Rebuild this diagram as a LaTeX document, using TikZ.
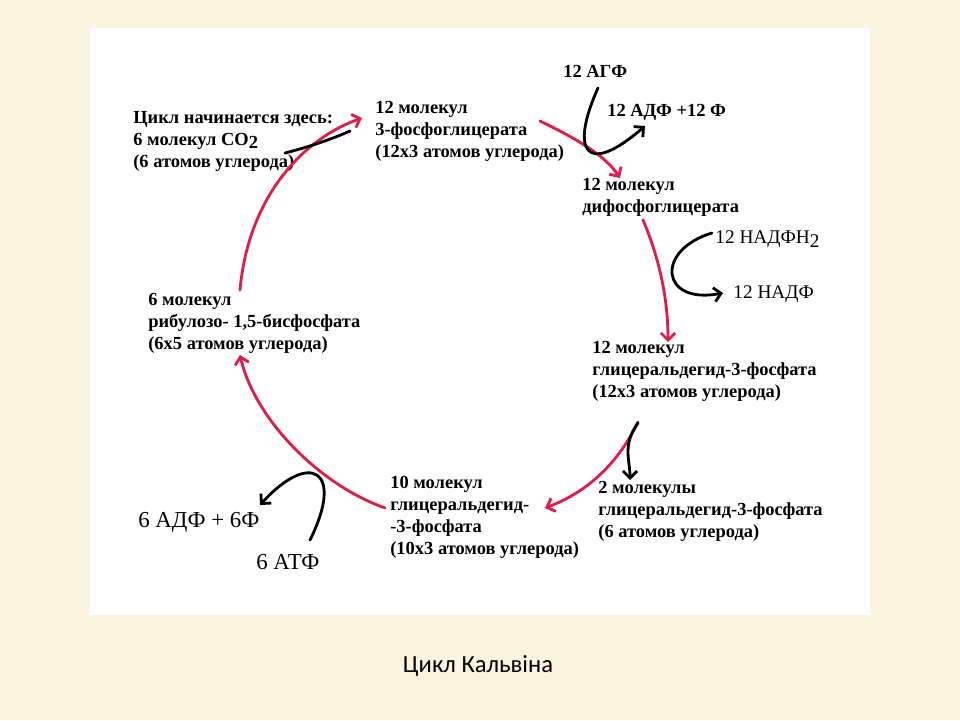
\documentclass[tikz,border=0pt]{standalone}
\usepackage{fontspec}
\setmainfont{Liberation Serif}
\newfontfamily\capfont{Carlito}
\usetikzlibrary{arrows.meta}
\definecolor{paper}{RGB}{250,243,222}
\definecolor{cycred}{RGB}{228,26,72}
\begin{document}
\begin{tikzpicture}
    [
        x=0.02cm, y=-0.02cm,
        lbl/.style={anchor=north west, inner sep=0pt, align=left, font=\bfseries\fontsize{10.5}{12.5}\selectfont},
        plain/.style={anchor=north west, inner sep=0pt, font=\fontsize{11}{13}\selectfont},
        big/.style={anchor=north west, inner sep=0pt, font=\fontsize{13}{15}\selectfont},
        redarc/.style={draw=cycred, line width=1.6pt, line cap=round, -{Straight Barb[length=4pt,width=8pt]}},
        blkarc/.style={draw=black, line width=1.6pt, line cap=round, -{Straight Barb[length=4pt,width=8pt]}},
    ]
    \useasboundingbox [fill=paper] (0,0) rectangle (960,720);
    \fill [white] (90,28) rectangle (870,615);
    % labels of the cycle
    \node (co2) at (133,111) [lbl] {Цикл начинается здесь:\\6 молекул CO\raisebox{-0.4ex}{2}\\(6 атомов углерода)};
    \node (pga) at (375,101) [lbl] {12 молекул\\3-фосфоглицерата\\(12x3 атомов углерода)};
    \node (atp12) at (563,65) [lbl] {12 АГФ};
    \node (adp12) at (607,104) [lbl] {12 АДФ +12 Ф};
    \node (dpg) at (582,178) [lbl] {12 молекул\\дифосфоглицерата};
    \node (nadph) at (715,230) [plain] {12 НАДФН\raisebox{-0.45ex}{2}};
    \node (nadp) at (733,285) [plain] {12 НАДФ};
    \node (gap12) at (592,341) [lbl] {12 молекул\\глицеральдегид-3-фосфата\\(12x3 атомов углерода)};
    \node (gap2) at (598,481) [lbl] {2 молекулы\\глицеральдегид-3-фосфата\\(6 атомов углерода)};
    \node (gap10) at (390,476) [lbl] {10 молекул\\глицеральдегид-\\-3-фосфата\\(10x3 атомов углерода)};
    \node (rubp) at (148,293) [lbl] {6 молекул\\рибулозо- 1,5-бисфосфата\\(6x5 атомов углерода)};
    \node (adp6) at (138,512) [big] {6 АДФ + 6Ф};
    \node (atp6) at (256,554) [big] {6 АТФ};
    \node (title) at (478,666) [font=\capfont\fontsize{14}{16}\selectfont, text=black] {Цикл Кальвіна};
    % ends of the arcs
    \coordinate (r1a) at (240,290);
    \coordinate (r1b) at (362,118);
    \coordinate (r2a) at (540,121);
    \coordinate (r2b) at (620,178);
    \coordinate (r3a) at (643,220);
    \coordinate (r3b) at (668,342);
    \coordinate (r4a) at (638,422);
    \coordinate (r4b) at (545,508);
    \coordinate (r5a) at (385,508);
    \coordinate (r5b) at (240,355);
    \coordinate (k1a) at (285,153);
    \coordinate (k1b) at (350,131);
    \coordinate (k2a) at (598,88);
    \coordinate (k2b) at (645,126);
    \coordinate (k3a) at (712,233);
    \coordinate (k3b) at (723,293);
    \coordinate (k4a) at (638,423);
    \coordinate (k4b) at (630,480);
    \coordinate (k5a) at (310,540);
    \coordinate (k5b) at (260,505);
    % red cycle
    \draw [redarc] (r1a) .. controls (248,200) and (300,140) .. (r1b);
    \draw [redarc] (r2a) .. controls (575,138) and (605,155) .. (r2b);
    \draw [redarc] (r3a) .. controls (660,260) and (668,300) .. (r3b);
    \draw [redarc] (r4a) .. controls (615,470) and (580,495) .. (r4b);
    \draw [redarc] (r5a) .. controls (320,485) and (255,420) .. (r5b);
    % side reactions
    \draw [line width=1.6pt, line cap=round] (k1a) .. controls (305,148) and (330,140) .. (k1b);
    \draw [blkarc] (k2a) .. controls (570,150) and (585,178) .. (k2b);
    \draw [blkarc] (k3a) .. controls (655,250) and (660,305) .. (k3b);
    \draw [blkarc] (k4a) .. controls (622,445) and (630,460) .. (k4b);
    \draw [blkarc] (k5a) .. controls (345,470) and (310,450) .. (k5b);
\end{tikzpicture}
\end{document}
